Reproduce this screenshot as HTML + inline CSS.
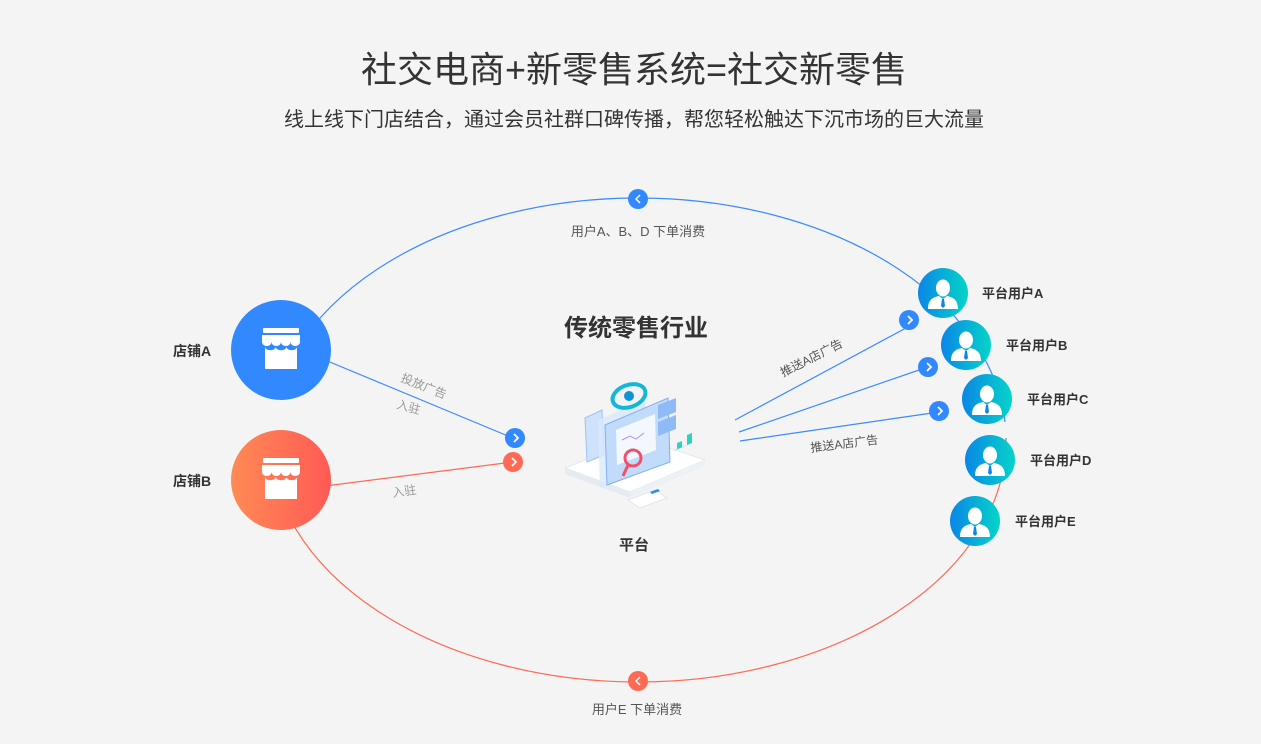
<!DOCTYPE html>
<html><head><meta charset="utf-8"><style>
html,body{margin:0;padding:0;background:#f4f4f4;}
body{width:1261px;height:739px;overflow:hidden;font-family:"Liberation Sans","Noto Sans CJK SC",sans-serif;}
</style></head><body>
<svg width="1261" height="739" viewBox="0 0 1261 739" xmlns="http://www.w3.org/2000/svg" style="font-family:'Liberation Sans','Noto Sans CJK SC',sans-serif">
<defs>
<linearGradient id="gu" x1="0" x2="1" y1="0" y2="0"><stop offset="0" stop-color="#0a86e6"/><stop offset="1" stop-color="#06d4c8"/></linearGradient>
<linearGradient id="gr" x1="0" x2="1"><stop offset="0" stop-color="#ff8a55"/><stop offset="1" stop-color="#ff5a55"/></linearGradient>
<g id="store"><rect x="-18" y="-22" width="36" height="5" rx="1" fill="#fff"/>
<path d="M-19,-15 H19 V-8 a4.75,4 0 0 1 -9.5,0 a4.75,4 0 0 1 -9.5,0 a4.75,4 0 0 1 -9.5,0 a4.75,4 0 0 1 -9.5,0 Z" fill="#fff"/>
<path d="M-16,-3 a5,3 0 0 0 10.7,0 a5,3 0 0 0 10.7,0 a5,3 0 0 0 10.6,0 V19 H-16 Z" fill="#fff"/></g>
<g id="user"><ellipse cx="0" cy="-6" rx="7" ry="8.5" fill="#fff"/><path d="M-15,15 C-15,5 -9,3 -4,2 L0,5 L4,2 C9,3 15,5 15,15 Z" fill="#fff"/><path d="M-1,5 h2 l1,7 l-2,2 l-2,-2 Z" fill="#0a86e6"/></g>
<g id="arr"><path d="M-2,-4 L2,0 L-2,4" stroke="#fff" stroke-width="1.8" fill="none"/></g>
</defs>
<text x="634" y="82" text-anchor="middle" font-size="36" fill="#333">社交电商+新零售系统=社交新零售</text>
<text x="634" y="126" text-anchor="middle" font-size="20" fill="#333">线上线下门店结合，通过会员社群口碑传播，帮您轻松触达下沉市场的巨大流量</text>
<!-- ellipse -->
<path d="M270,440 A368,242 0 0 1 1006,440" stroke="#3a8cff" stroke-width="1.2" fill="none"/>
<path d="M270,440 A368,242 0 0 0 1006,440" stroke="#ff6a55" stroke-width="1.2" fill="none"/>
<rect x="255" y="396" width="40" height="38" fill="#f4f4f4"/>
<rect x="994" y="422" width="24" height="16" fill="#f4f4f4"/>
<circle cx="638" cy="199" r="10" fill="#3288ff"/><path d="M640,195 L636,199 L640,203" stroke="#fff" stroke-width="1.5" fill="none"/>
<circle cx="638" cy="681" r="10" fill="#ff6a55"/><path d="M640,677 L636,681 L640,685" stroke="#fff" stroke-width="1.5" fill="none"/>
<text x="638" y="236" text-anchor="middle" font-size="13" fill="#555">用户A、B、D 下单消费</text>
<text x="637" y="714" text-anchor="middle" font-size="13" fill="#555">用户E 下单消费</text>
<!-- left lines -->
<line x1="325" y1="360" x2="508" y2="436" stroke="#3a8cff" stroke-width="1.2"/>
<line x1="325" y1="486" x2="505" y2="463" stroke="#ff6a55" stroke-width="1.2"/>
<circle cx="515" cy="438" r="10" fill="#3288ff"/><use href="#arr" x="516" y="438"/>
<circle cx="513" cy="462" r="10" fill="#ff6a55"/><use href="#arr" x="514" y="462"/>
<text x="0" y="0" font-size="12" fill="#999" transform="translate(400,381) rotate(22)">投放广告</text>
<text x="0" y="0" font-size="12" fill="#999" transform="translate(396,408) rotate(15)">入驻</text>
<text x="0" y="0" font-size="12" fill="#999" transform="translate(393,497) rotate(-8)">入驻</text>
<!-- stores -->
<circle cx="281" cy="350" r="50" fill="#3288ff"/><use href="#store" x="281" y="350"/>
<circle cx="281" cy="480" r="50" fill="url(#gr)"/><use href="#store" x="281" y="480"/>
<text x="173" y="356" font-size="14" font-weight="bold" fill="#333">店铺A</text>
<text x="173" y="486" font-size="14" font-weight="bold" fill="#333">店铺B</text>
<!-- center -->
<text x="636" y="336" text-anchor="middle" font-size="24" font-weight="bold" fill="#333">传统零售行业</text>
<text x="634" y="550" text-anchor="middle" font-size="15" font-weight="bold" fill="#333">平台</text>
<g>
<path d="M565,468 L640,438 L705,460 L630,492 Z" fill="#fff" stroke="#e3e8ef"/>
<path d="M565,468 L630,492 L630,498 L565,474 Z" fill="#e6ebf2"/>
<path d="M630,492 L705,460 L705,466 L630,498 Z" fill="#edf0f5"/>
<path d="M585,418 L602,410 L604,455 L587,462 Z" fill="#cfe2fb" stroke="#9cc2f5"/>
<path d="M598,420 L645,400 L648,470 L600,488 Z" fill="#d8e8fd" opacity=".8"/>
<path d="M605,425 L668,398 L670,462 L607,485 Z" fill="#c3dbfb" stroke="#7fb0f2"/>
<path d="M616,430 L655,414 L656,450 L617,465 Z" fill="#f3f8ff"/>
<path d="M622,440 l8,-4 l6,3 l8,-6" stroke="#b48cf0" fill="none"/>
<path d="M658,405 L676,398 L676,412 L658,419 Z M658,422 L676,415 L676,429 L658,436 Z" fill="#8fbaf5"/>
<path d="M671,452 l6,-3 v-6 l5,-2 v6 l5,-2 v-10 l5,-2 v10 Z" fill="#2fd2c2"/>
<ellipse cx="629" cy="396" rx="17" ry="11" fill="none" stroke="#13b8d8" stroke-width="4" transform="rotate(-20 629 396)"/>
<circle cx="629" cy="396" r="5" fill="#1391d8"/>
<circle cx="633" cy="458" r="8" fill="none" stroke="#f0506a" stroke-width="3"/>
<line x1="628" y1="465" x2="623" y2="476" stroke="#f0506a" stroke-width="3"/>
<path d="M628,500 L655,490 L667,498 L640,508 Z" fill="#fff" stroke="#dfe5ee"/>
<path d="M650,492 l8,-3 l2,2 l-8,3 Z" fill="#2d8cf0"/>
</g>
<!-- right lines -->
<line x1="735" y1="420" x2="906" y2="328" stroke="#3a8cff" stroke-width="1.2"/>
<line x1="739" y1="432" x2="922" y2="369" stroke="#3a8cff" stroke-width="1.2"/>
<line x1="740" y1="441" x2="932" y2="413" stroke="#3a8cff" stroke-width="1.2"/>
<circle cx="909" cy="320" r="10" fill="#3288ff"/><use href="#arr" x="910" y="320"/>
<circle cx="928" cy="367" r="10" fill="#3288ff"/><use href="#arr" x="929" y="367"/>
<circle cx="939" cy="411" r="10" fill="#3288ff"/><use href="#arr" x="940" y="411"/>
<text x="0" y="0" font-size="12" fill="#555" transform="translate(783,377) rotate(-27)">推送A店广告</text>
<text x="0" y="0" font-size="12" fill="#555" transform="translate(811,452) rotate(-7)">推送A店广告</text>
<!-- users -->
<circle cx="943" cy="293" r="25" fill="url(#gu)"/><use href="#user" x="943" y="294"/>
<circle cx="966" cy="345" r="25" fill="url(#gu)"/><use href="#user" x="966" y="346"/>
<circle cx="987" cy="399" r="25" fill="url(#gu)"/><use href="#user" x="987" y="400"/>
<circle cx="990" cy="460" r="25" fill="url(#gu)"/><use href="#user" x="990" y="461"/>
<circle cx="975" cy="521" r="25" fill="url(#gu)"/><use href="#user" x="975" y="522"/>
<g font-size="13" font-weight="bold" fill="#333">
<text x="982" y="298">平台用户A</text>
<text x="1006" y="350">平台用户B</text>
<text x="1027" y="404">平台用户C</text>
<text x="1030" y="465">平台用户D</text>
<text x="1015" y="526">平台用户E</text>
</g>
</svg>
</body></html>
